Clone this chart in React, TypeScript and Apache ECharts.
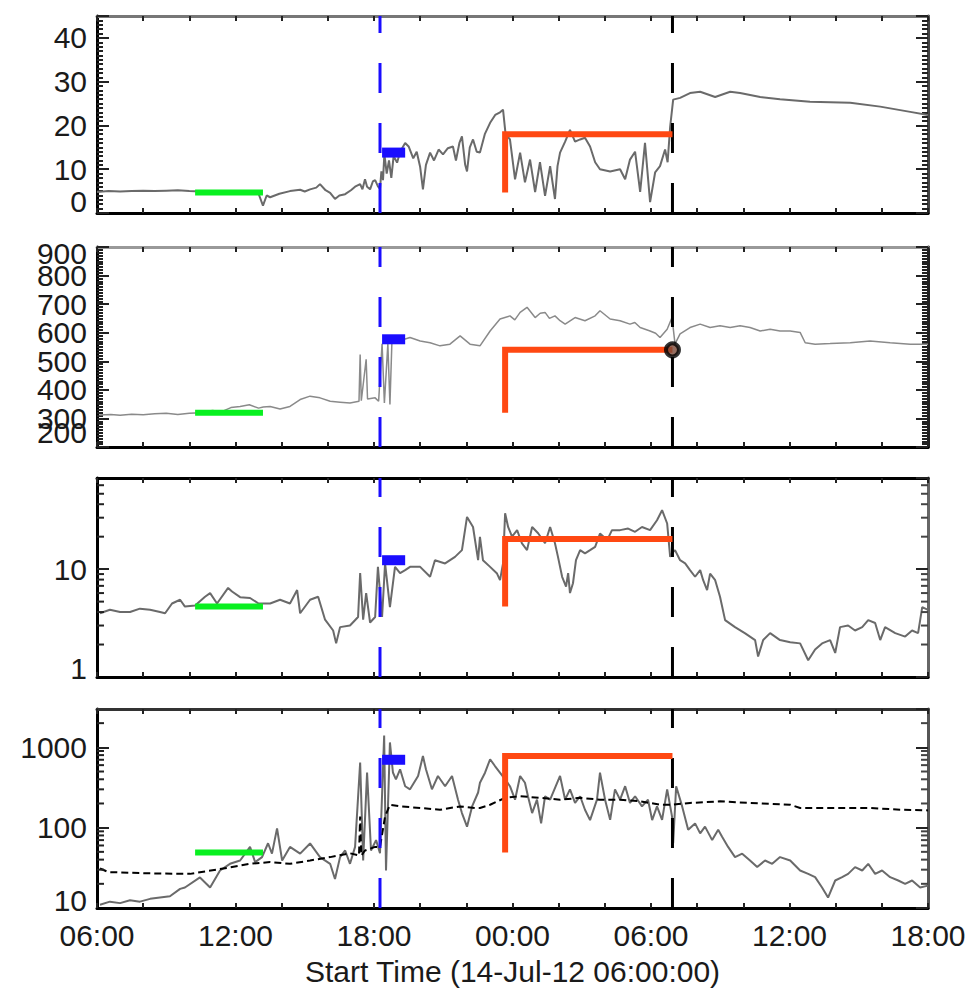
import React, { useEffect, useRef } from "react";
import * as echarts from "echarts";

// ---------------- data (hours after 14-Jul-12 06:00) ----------------
const tickHours = [0, 6, 12, 18, 24, 30, 36];
const tickLabels = ["06:00", "12:00", "18:00", "00:00", "06:00", "12:00", "18:00"];
const xTitle = "Start Time (14-Jul-12 06:00:00)";

const blueLineTime = 12.26;
const blackLineTime = 24.93;
const greenTimes = [4.25, 7.19];
const blueTimes = [12.35, 13.35];
const orangeTime = 17.68;

const greenLevels = [4.7, 320, 4.5, 49];
const blueLevels = [13.8, 577, 12.1, 700];
const orangeLevels = [18, 540, 19, 780];
const markerValue = 540;

const magField: number[][] = [
  [0, 4.8], [0.5, 5.0], [1.0, 4.9], [1.5, 5.0], [2.0, 5.1], [2.5, 5.0], [3.0, 5.1], [3.5, 5.2],
  [4.0, 5.0], [4.5, 4.9], [5.0, 4.8], [5.5, 4.7], [6.0, 4.6], [6.5, 4.5], [7.0, 4.4], [7.19, 1.7],
  [7.35, 4.0], [7.5, 3.6], [7.9, 4.4], [8.36, 5.0], [8.8, 5.3], [9.0, 4.9], [9.23, 5.4], [9.5, 5.8],
  [9.66, 6.6], [9.9, 5.2], [10.1, 4.6], [10.31, 3.2], [10.5, 4.0], [10.75, 4.3], [11.0, 5.2],
  [11.18, 6.0], [11.4, 6.6], [11.5, 5.4], [11.61, 7.7], [11.7, 6.0], [11.83, 5.4], [11.95, 7.2],
  [12.05, 7.5], [12.17, 6.1], [12.26, 5.5], [12.32, 9.5], [12.39, 7.5], [12.45, 13.5], [12.55, 9.0],
  [12.65, 12.0], [12.75, 8.0], [12.85, 13.0], [13.0, 11.5], [13.13, 14.0], [13.35, 16.0], [13.5, 15.2],
  [13.7, 12.5], [13.85, 14.0], [14.0, 10.5], [14.12, 5.4], [14.25, 11.0], [14.43, 13.8], [14.6, 12.0],
  [14.8, 14.5], [14.99, 13.4], [15.2, 14.8], [15.42, 15.2], [15.55, 12.0], [15.7, 16.0], [15.81, 17.5],
  [15.95, 11.0], [16.03, 9.5], [16.15, 15.0], [16.29, 16.8], [16.45, 14.0], [16.59, 13.8], [16.8, 18.0],
  [17.03, 20.6], [17.25, 22.4], [17.46, 23.0], [17.59, 23.6], [17.7, 18.0], [17.89, 16.8], [18.11, 7.7],
  [18.33, 13.8], [18.54, 7.0], [18.76, 12.2], [18.98, 4.8], [19.19, 11.6], [19.41, 3.9], [19.63, 10.7],
  [19.84, 3.2], [19.95, 10.7], [20.06, 13.8], [20.28, 16.3], [20.49, 19.0], [20.71, 16.3], [20.93, 16.8],
  [21.14, 17.2], [21.36, 15.2], [21.58, 11.6], [21.79, 10.0], [22.23, 9.5], [22.66, 10.0], [22.88, 7.7],
  [23.09, 12.2], [23.31, 14.0], [23.53, 4.8], [23.74, 16.0], [23.96, 2.5], [24.18, 9.3], [24.39, 10.7],
  [24.61, 14.5], [24.72, 11.6], [24.83, 19.7], [24.96, 25.9], [25.26, 26.3], [25.69, 27.4], [26.13, 27.7],
  [26.78, 26.5], [27.43, 27.7], [27.86, 27.4], [28.73, 26.5], [29.59, 26.0], [30.89, 25.4], [32.63, 25.2],
  [33.93, 24.3], [35.23, 23.1], [36.0, 22.4],
];

const speed: number[][] = [
  [0.1, 312], [0.6, 314], [1.0, 311], [1.5, 315], [2.0, 313], [2.5, 316], [3.0, 318], [3.5, 314],
  [4.0, 318], [4.5, 320], [5.0, 328], [5.4, 324], [5.8, 338], [6.2, 342], [6.6, 348], [7.0, 336],
  [7.2, 340], [7.5, 342], [7.93, 333], [8.36, 342], [8.8, 366], [9.23, 378], [9.66, 372], [10.1, 360],
  [10.53, 357], [10.96, 354], [11.35, 360], [11.4, 524], [11.45, 362], [11.66, 507], [11.72, 368],
  [12.05, 372], [12.2, 360], [12.35, 561], [12.45, 354], [12.6, 560], [12.69, 349], [12.78, 578],
  [13.13, 580], [13.35, 578], [13.56, 583], [14.0, 571], [14.43, 565], [14.86, 554], [15.29, 560],
  [15.73, 589], [16.16, 560], [16.59, 554], [17.03, 606], [17.46, 648], [17.89, 659], [18.1, 645],
  [18.33, 671], [18.63, 689], [18.98, 653], [19.2, 668], [19.41, 671], [19.6, 650], [19.84, 659],
  [20.06, 642], [20.28, 630], [20.71, 653], [21.14, 642], [21.58, 659], [21.79, 677], [22.23, 648],
  [22.66, 642], [23.09, 630], [23.3, 636], [23.53, 618], [23.96, 606], [24.2, 598], [24.39, 583],
  [24.7, 612], [24.91, 653], [25.04, 561], [25.26, 596], [25.69, 618], [26.13, 630], [26.56, 618],
  [26.99, 624], [27.43, 618], [27.86, 624], [28.29, 618], [28.73, 606], [29.16, 612], [29.59, 606],
  [30.03, 606], [30.46, 601], [30.68, 565], [31.11, 560], [31.76, 562], [32.63, 565], [33.49, 571],
  [34.36, 565], [35.23, 560], [36.0, 560],
];

const density: number[][] = [
  [0.13, 3.9], [0.56, 4.2], [1.0, 4.0], [1.43, 4.0], [1.86, 4.3], [2.3, 4.2], [2.73, 4.0], [2.95, 3.9],
  [3.25, 4.8], [3.6, 5.2], [3.81, 4.5], [4.25, 4.6], [4.68, 5.55], [4.9, 6.0], [5.2, 4.8], [5.68, 6.7],
  [5.85, 6.2], [6.2, 5.5], [6.63, 5.4], [7.0, 4.8], [7.5, 4.8], [7.93, 5.2], [8.36, 4.8], [8.67, 6.4],
  [8.8, 3.9], [9.23, 5.2], [9.58, 5.55], [9.88, 3.4], [10.23, 2.7], [10.36, 2.05], [10.53, 2.9],
  [10.96, 3.0], [11.31, 3.6], [11.4, 9.2], [11.53, 3.4], [11.66, 6.0], [11.83, 3.2], [12.05, 3.6],
  [12.17, 10.5], [12.35, 3.6], [12.48, 11.3], [12.69, 4.45], [12.91, 10.5], [13.13, 9.2], [13.35, 9.8],
  [13.56, 10.5], [14.0, 10.5], [14.43, 8.5], [14.64, 12.1], [15.08, 11.3], [15.51, 13.0], [15.81, 15.0],
  [16.03, 30.5], [16.29, 24.6], [16.51, 12.1], [16.59, 19.9], [16.72, 12.1], [17.03, 10.5], [17.33, 9.1],
  [17.46, 7.9], [17.59, 11.3], [17.68, 33], [17.81, 24.6], [17.98, 20], [18.2, 23], [18.41, 17.3],
  [18.63, 15], [18.85, 24.6], [19.11, 21.5], [19.41, 17.4], [19.63, 24.6], [19.84, 17.4], [19.97, 13.0],
  [20.15, 8.5], [20.32, 6.9], [20.41, 9.2], [20.49, 6.0], [20.62, 7.4], [20.75, 12.1], [20.93, 15],
  [21.14, 14], [21.36, 15], [21.58, 16.1], [21.79, 21.4], [22.1, 18.6], [22.31, 23], [22.66, 23],
  [23.01, 23.8], [23.31, 22.2], [23.61, 24.6], [23.96, 23], [24.26, 28.4], [24.48, 35.2], [24.7, 26.5],
  [24.83, 13], [24.91, 14], [25.04, 15], [25.26, 12.1], [25.48, 11.3], [25.69, 9.8], [25.91, 8.5],
  [26.13, 9.8], [26.26, 7.9], [26.43, 6.4], [26.56, 9.1], [26.78, 7.9], [26.99, 5.55], [27.21, 3.37],
  [27.64, 2.9], [28.08, 2.54], [28.51, 2.2], [28.64, 1.55], [28.86, 2.2], [29.16, 2.55], [29.59, 2.2],
  [30.03, 2.1], [30.46, 2.05], [30.81, 1.43], [31.11, 1.8], [31.41, 2.05], [31.76, 2.2], [31.98, 1.67],
  [32.19, 2.9], [32.54, 3.0], [32.84, 2.7], [33.15, 2.9], [33.41, 3.37], [33.71, 3.17], [33.93, 2.2],
  [34.14, 2.9], [34.58, 2.55], [35.01, 2.37], [35.31, 2.7], [35.57, 2.55], [35.75, 4.45], [36.0, 4.2],
];

const temperature: number[][] = [
  [0.13, 11], [0.56, 12], [1.0, 11.5], [1.43, 12.5], [1.86, 12], [2.3, 13], [2.73, 13.5], [3.16, 14],
  [3.6, 17.3], [3.81, 18], [4.46, 24], [4.9, 18], [5.33, 29.3], [5.76, 35.5], [6.2, 39], [6.63, 57.6],
  [6.85, 37.3], [7.15, 43], [7.41, 64], [7.58, 47.5], [7.8, 98], [8.02, 39], [8.36, 57.6], [8.8, 47.5],
  [9.23, 63.6], [9.66, 43], [10.1, 35.5], [10.31, 23], [10.53, 43], [10.75, 52], [10.96, 35.5],
  [11.18, 57.6], [11.4, 646], [11.53, 39], [11.7, 484], [11.87, 52], [12.09, 70], [12.26, 48],
  [12.44, 1400], [12.52, 29.3], [12.69, 1150], [12.82, 486], [12.95, 400], [13.13, 533], [13.35, 328],
  [13.56, 300], [13.91, 440], [14.12, 780], [14.25, 533], [14.51, 300], [14.77, 440], [15.08, 328],
  [15.38, 440], [15.64, 223], [15.81, 152], [16.03, 103], [16.25, 184], [16.51, 274], [16.59, 362],
  [16.81, 483], [17.03, 711], [17.24, 585], [17.68, 400], [17.89, 328], [18.11, 223], [18.33, 440],
  [18.54, 362], [18.67, 246], [18.85, 152], [19.06, 223], [19.24, 113], [19.41, 246], [19.63, 223],
  [20.06, 440], [20.28, 223], [20.49, 300], [20.71, 203], [20.93, 246], [21.14, 167], [21.36, 124],
  [21.66, 223], [21.79, 483], [22.01, 223], [22.23, 125], [22.44, 300], [22.66, 223], [22.88, 328],
  [23.09, 203], [23.31, 246], [23.61, 184], [23.87, 223], [24.05, 124], [24.26, 184], [24.48, 125],
  [24.7, 300], [24.91, 138], [24.96, 64], [25.09, 328], [25.35, 184], [25.61, 94], [25.91, 113],
  [26.13, 85], [26.34, 103], [26.65, 70], [26.91, 94], [27.08, 77], [27.34, 57.6], [27.64, 43],
  [27.95, 47.5], [28.29, 39], [28.6, 32.3], [28.94, 39], [29.25, 35.5], [29.59, 43], [30.03, 39],
  [30.46, 29.3], [30.81, 26.6], [31.11, 24.2], [31.41, 18], [31.67, 13.5], [31.98, 22], [32.28, 24.2],
  [32.54, 26.6], [32.84, 32.3], [33.15, 29.3], [33.41, 35.5], [33.71, 26.6], [34.01, 29.3], [34.36, 24.2],
  [34.71, 22], [35.01, 20], [35.31, 22], [35.66, 18], [36.0, 19],
];

const expectedTemperature: number[][] = [
  [0.13, 31], [0.5, 28], [2.3, 27], [4.03, 26.6], [5.76, 32], [6.63, 35.5], [7.5, 37.3], [8.36, 35.5],
  [9.23, 39], [10.1, 43], [10.96, 48], [11.35, 45], [11.4, 138], [11.45, 45], [11.61, 52], [12.05, 57.6],
  [12.26, 57.6], [12.48, 138], [12.69, 193], [13.13, 184], [14.0, 176], [14.86, 167], [15.73, 184],
  [16.38, 176], [16.59, 176], [17.03, 193], [17.68, 235], [18.33, 246], [19.19, 235], [20.06, 223],
  [20.93, 235], [21.79, 223], [22.66, 223], [23.53, 213], [24.39, 193], [24.91, 193], [25.69, 203],
  [26.99, 213], [28.29, 203], [30.03, 193], [30.46, 176], [31.76, 176], [33.49, 176], [34.79, 167],
  [36.0, 164],
];

const densityMinorTicks = [2, 3, 4, 5, 6, 7, 8, 9, 20, 30, 40, 50, 60];
const temperatureMinorTicks = [20, 30, 40, 50, 60, 70, 80, 90, 200, 300, 400, 500, 600, 700, 800, 900, 2000];

// ---------------- layout / style ----------------
const FONT = "Liberation Sans, Arial, Helvetica, sans-serif";
const GRID_LEFT = 97;
const GRID_WIDTH = 831;
const LABEL_LH = 10;

const panels = [
  { top: 16, height: 197, type: "value", min: 0, max: 45, interval: 10, minorSplit: 10, loPad: 24, hiPad: 0, showMax: false, topColor: "#777", rightColor: "#444" },
  { top: 247, height: 200, type: "value", min: 200, max: 900, interval: 100, minorSplit: 10, loPad: 30, hiPad: 12, showMax: true, topColor: "#999", rightColor: "#222" },
  { top: 478, height: 199, type: "log", min: 1, max: 70, loPad: 18, hiPad: 0, showMax: false, topColor: "#000", rightColor: "#666" },
  { top: 709, height: 199, type: "log", min: 10, max: 3000, loPad: 16, hiPad: 0, showMax: false, topColor: "#333", rightColor: "#555" },
];

const panelLines = [
  [{ data: magField, color: "#6a6a6a", width: 2, dash: "solid" as any }],
  [{ data: speed, color: "#8a8a8a", width: 1.5, dash: "solid" as any }],
  [{ data: density, color: "#6a6a6a", width: 2, dash: "solid" as any }],
  [
    { data: temperature, color: "#6a6a6a", width: 2, dash: "solid" as any },
    { data: expectedTemperature, color: "#000", width: 2, dash: [7, 4] as any },
  ],
];
const panelMinorTicks = [null, null, densityMinorTicks, temperatureMinorTicks];

const labelFont = { fontSize: 30, fontFamily: FONT, color: "#1a1a1a" };

function buildOption() {
  const grid: any[] = [];
  const xAxis: any[] = [];
  const yAxis: any[] = [];
  const series: any[] = [];

  panels.forEach((p, i) => {
    grid.push({ left: GRID_LEFT, width: GRID_WIDTH, top: p.top, height: p.height });
    const isLast = i === panels.length - 1;
    const xBase = {
      type: "value",
      gridIndex: i,
      min: 0,
      max: 36,
      interval: 6,
      splitLine: { show: false },
      axisTick: { show: true, inside: true, length: 5, lineStyle: { color: "#222", width: 2 } },
      minorTick: { show: true, splitNumber: 3, length: 5, lineStyle: { color: "#222", width: 2 } },
    };
    xAxis.push({
      ...xBase,
      position: "bottom",
      axisLine: { show: true, onZero: false, lineStyle: { color: "#000", width: 3 } },
      axisLabel: {
        show: isLast,
        margin: 12,
        ...labelFont,
        formatter: (v: number) => {
          const k = tickHours.indexOf(Math.round(v));
          return k >= 0 ? tickLabels[k] : "";
        },
      },
      name: isLast ? xTitle : "",
      nameLocation: "middle",
      nameGap: 48,
      nameTextStyle: { fontSize: 30, fontFamily: FONT, color: "#1a1a1a" },
    });
    xAxis.push({
      ...xBase,
      position: "top",
      axisLine: { show: true, onZero: false, lineStyle: { color: p.topColor, width: 3 } },
      axisLabel: { show: false },
    });

    const yBase: any = {
      type: p.type,
      gridIndex: i,
      min: p.min,
      max: p.max,
      splitLine: { show: false },
      axisTick: { show: true, inside: true, length: 12, lineStyle: { color: "#222", width: 2 } },
    };
    if (p.type === "value") {
      yBase.interval = p.interval;
      yBase.minorTick = { show: true, splitNumber: p.minorSplit, length: 6, lineStyle: { color: "#222", width: 2 } };
    } else {
      yBase.logBase = 10;
    }
    const isEnd = (v: number) => Math.abs(v - p.min) < 1e-6 || Math.abs(v - p.max) < 1e-6;
    // main left axis: inner labels
    yAxis.push({
      ...yBase,
      position: "left",
      axisLabel: {
        show: true,
        margin: 10,
        ...labelFont,
        showMinLabel: false,
        showMaxLabel: false,
        formatter: (v: number) => (isEnd(v) ? "" : String(Math.round(v))),
      },
      axisLine: { show: true, onZero: false, lineStyle: { color: "#000", width: 3 } },
    });
    // right mirrored axis
    yAxis.push({
      ...yBase,
      position: "right",
      axisLine: { show: true, onZero: false, lineStyle: { color: p.rightColor, width: 3 } },
      axisLabel: { show: false },
    });
    // overlay left axis carrying only the end labels (nudged inward as in IDL)
    yAxis.push({
      ...yBase,
      position: "left",
      axisLine: { show: false },
      axisTick: { show: false },
      minorTick: { show: false },
      axisLabel: {
        show: true,
        margin: 10,
        ...labelFont,
        lineHeight: LABEL_LH,
        showMinLabel: true,
        showMaxLabel: p.showMax,
        formatter: (v: number) => {
          const s = String(Math.round(v));
          if (Math.abs(v - p.min) < 1e-6) return "{lo|" + s + "}";
          if (p.showMax && Math.abs(v - p.max) < 1e-6) return "{hi|" + s + "}";
          return "";
        },
        rich: {
          lo: { ...labelFont, lineHeight: LABEL_LH, padding: [0, 0, p.loPad, 0] },
          hi: { ...labelFont, lineHeight: LABEL_LH, padding: [p.hiPad, 0, 0, 0] },
        },
      },
    });

    const ax = { xAxisIndex: 2 * i, yAxisIndex: 3 * i, silent: true };

    panelLines[i].forEach((ln, k) => {
      series.push({
        ...ax,
        type: "line",
        data: ln.data,
        showSymbol: false,
        symbol: "none",
        z: 2 + k,
        lineStyle: { color: ln.color, width: ln.width, type: ln.dash },
      });
    });

    // vertical dashed event lines (drawn bottom to top)
    [
      { t: blueLineTime, color: "#1a0dff" },
      { t: blackLineTime, color: "#000" },
    ].forEach((ev) => {
      series.push({
        ...ax,
        type: "line",
        data: [[ev.t, p.min], [ev.t, p.max]],
        showSymbol: false,
        symbol: "none",
        z: 5,
        lineStyle: { color: ev.color, width: 3, type: [30, 30] },
      });
    });

    // green upstream level
    series.push({
      ...ax,
      type: "line",
      data: [[greenTimes[0], greenLevels[i]], [greenTimes[1], greenLevels[i]]],
      showSymbol: false,
      symbol: "none",
      z: 7,
      lineStyle: { color: "#08f020", width: 6 },
    });
    // blue level
    series.push({
      ...ax,
      type: "line",
      data: [[blueTimes[0], blueLevels[i]], [blueTimes[1], blueLevels[i]]],
      showSymbol: false,
      symbol: "none",
      z: 7,
      lineStyle: { color: "#1a0dff", width: 10, cap: "butt" },
    });
    // orange L
    series.push({
      ...ax,
      type: "line",
      data: [
        [orangeTime, greenLevels[i]],
        [orangeTime, orangeLevels[i]],
        [blackLineTime, orangeLevels[i]],
      ],
      showSymbol: false,
      symbol: "none",
      z: 7,
      lineStyle: { color: "#ff4812", width: 6, join: "miter" },
    });

    const minors = panelMinorTicks[i];
    if (minors) {
      series.push({
        ...ax,
        type: "custom",
        z: 8,
        data: minors.map((v) => [0, v]),
        renderItem: (params: any, api: any) => {
          const cs = params.coordSys;
          const y = api.coord([0, api.value(1)])[1];
          return {
            type: "group",
            children: [
              { type: "line", shape: { x1: cs.x, y1: y, x2: cs.x + 7, y2: y }, style: { stroke: "#222", lineWidth: 2 } },
              { type: "line", shape: { x1: cs.x + cs.width, y1: y, x2: cs.x + cs.width - 7, y2: y }, style: { stroke: "#444", lineWidth: 2 } },
            ],
          };
        },
      });
    }
  });

  // marker on speed panel at the shock
  series.push({
    type: "scatter",
    xAxisIndex: 2,
    yAxisIndex: 3,
    silent: true,
    z: 9,
    data: [[blackLineTime, markerValue]],
    symbol: "circle",
    symbolSize: 13,
    itemStyle: { color: "#7a4a3a", borderColor: "#000", borderWidth: 4 },
  });

  return {
    animation: false,
    backgroundColor: "#fff",
    grid,
    xAxis,
    yAxis,
    series,
  };
}

export default function App() {
  const ref = useRef<HTMLDivElement>(null);
  useEffect(() => {
    if (!ref.current) return;
    const chart = echarts.init(ref.current, undefined, { renderer: "svg" });
    chart.setOption(buildOption() as any);
    return () => chart.dispose();
  }, []);
  return (
    <div
      ref={ref}
      style={{ position: "fixed", left: 0, top: 0, width: 969, height: 988, background: "#fff" }}
    />
  );
}
